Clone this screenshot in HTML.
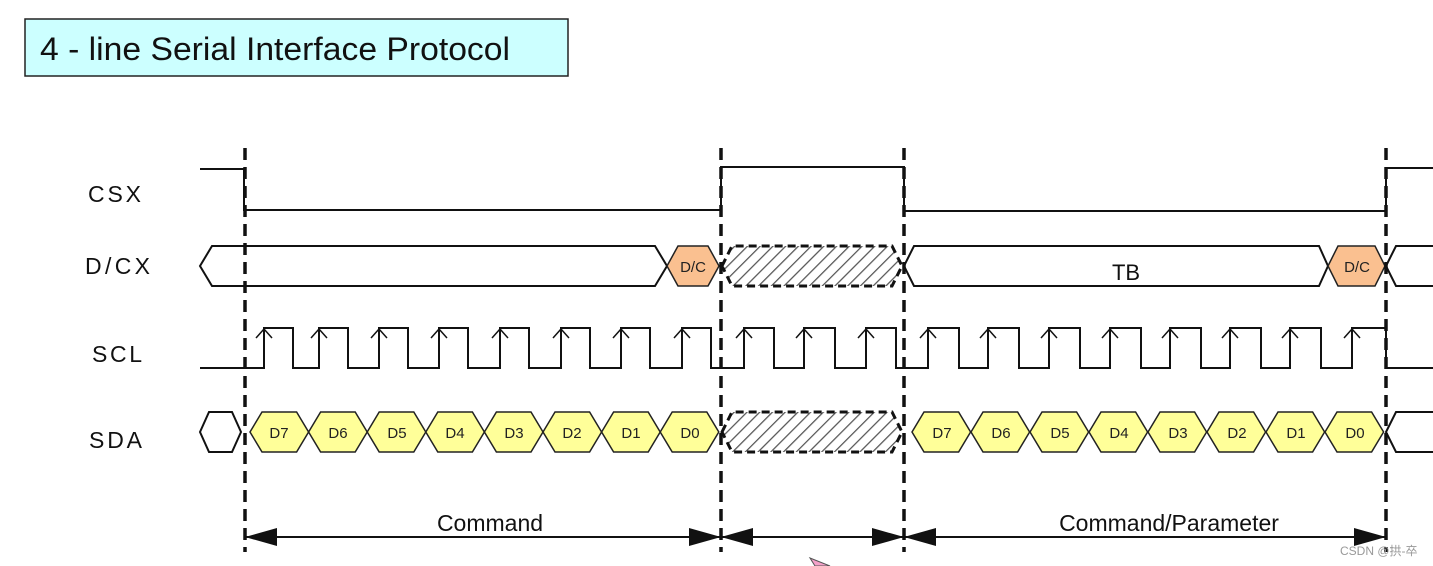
<!DOCTYPE html>
<html><head><meta charset="utf-8"><style>
html,body{margin:0;padding:0;background:#fff;}
svg{display:block;}
text{font-family:"Liberation Sans","Noto Sans CJK SC",sans-serif;}
</style></head><body>
<svg width="1433" height="566" viewBox="0 0 1433 566" xmlns="http://www.w3.org/2000/svg">
<defs>
<pattern id="h" width="9" height="9" patternUnits="userSpaceOnUse" patternTransform="rotate(45)">
<rect width="9" height="9" fill="#fff"/><line x1="0" y1="0" x2="0" y2="9" stroke="#555" stroke-width="2.5"/>
</pattern>
<polygon id="hx" points="0,20 12,0 46.6,0 58.6,20 46.6,40 12,40" fill="#ffff99" stroke="#222" stroke-width="1.5"/>
</defs>
<rect x="25" y="19" width="543" height="57" fill="#ccffff" stroke="#222" stroke-width="1.5"/>
<text x="40" y="60" font-size="32" fill="#111" textLength="470" lengthAdjust="spacingAndGlyphs">4 - line Serial Interface Protocol</text>

<g font-size="23" fill="#111">
<text x="88" y="202" textLength="53">CSX</text>
<text x="85" y="274" textLength="65">D/CX</text>
<text x="92" y="362" textLength="50">SCL</text>
<text x="89" y="448" textLength="53">SDA</text>
</g>

<g fill="none" stroke="#111" stroke-width="2">
<path d="M200 169 H244 V210 H721 V167 H904 V211 H1386 V168 H1433"/>
<polygon points="200,266 212,246 655,246 667,266 655,286 212,286" fill="#fff"/>
<polygon points="904,266 914,246 1319,246 1328,266 1319,286 914,286" fill="#fff"/>
<path d="M1433 246 H1396 L1386 266 L1396 286 H1433"/>
<polygon points="200,432 209,412 232,412 241,432 232,452 209,452" fill="#fff"/>
<path d="M1433 412 H1396 L1386 432 L1396 452 H1433"/>
<path d="M200 368 H264 V328 H293 V368 H319 V328 H348 V368 H379 V328 H408 V368 H439 V328 H468 V368 H500 V328 H529 V368 H561 V328 H590 V368 H621 V328 H650 V368 H682 V328 H711 V368 H744 V328 H774 V368 H804 V328 H835 V368 H866 V328 H896 V368 H928 V328 H959 V368 H988 V328 H1019 V368 H1049 V328 H1080 V368 H1110 V328 H1141 V368 H1170 V328 H1201 V368 H1230 V328 H1261 V368 H1290 V328 H1321 V368 H1352 V328 H1386 V368 H1433"/>
<path stroke-width="1.5" d="M256 338 L264 329 L272 338 M311 338 L319 329 L327 338 M371 338 L379 329 L387 338 M431 338 L439 329 L447 338 M492 338 L500 329 L508 338 M553 338 L561 329 L569 338 M613 338 L621 329 L629 338 M674 338 L682 329 L690 338 M736 338 L744 329 L752 338 M796 338 L804 329 L812 338 M858 338 L866 329 L874 338 M920 338 L928 329 L936 338 M980 338 L988 329 L996 338 M1041 338 L1049 329 L1057 338 M1102 338 L1110 329 L1118 338 M1162 338 L1170 329 L1178 338 M1222 338 L1230 329 L1238 338 M1282 338 L1290 329 L1298 338 M1344 338 L1352 329 L1360 338"/>
</g>

<polygon points="667,266 678,246 708,246 719,266 708,286 678,286" fill="#fac090" stroke="#222" stroke-width="1.5"/>
<polygon points="1328,266 1338,246 1375,246 1385,266 1375,286 1338,286" fill="#fac090" stroke="#222" stroke-width="1.5"/>
<g font-size="15" fill="#222" text-anchor="middle">
<text x="693" y="272">D/C</text><text x="1357" y="272">D/C</text>
</g>
<text x="1126" y="280" font-size="22" text-anchor="middle" fill="#111">TB</text>

<polygon points="722,266 732,246 892,246 902,266 892,286 732,286" fill="url(#h)" stroke="#111" stroke-width="3" stroke-dasharray="8,5"/>
<polygon points="722,432 732,412 892,412 902,432 892,452 732,452" fill="url(#h)" stroke="#111" stroke-width="3" stroke-dasharray="8,5"/>

<g>
<use href="#hx" x="250" y="412"/><use href="#hx" x="308.6" y="412"/><use href="#hx" x="367.2" y="412"/><use href="#hx" x="425.8" y="412"/>
<use href="#hx" x="484.4" y="412"/><use href="#hx" x="543" y="412"/><use href="#hx" x="601.6" y="412"/><use href="#hx" x="660.2" y="412"/>
<use href="#hx" x="912" y="412"/><use href="#hx" x="971" y="412"/><use href="#hx" x="1030" y="412"/><use href="#hx" x="1089" y="412"/>
<use href="#hx" x="1148" y="412"/><use href="#hx" x="1207" y="412"/><use href="#hx" x="1266" y="412"/><use href="#hx" x="1325" y="412"/>
</g>
<g font-size="15" fill="#222" text-anchor="middle">
<text x="279" y="438">D7</text><text x="338" y="438">D6</text><text x="397" y="438">D5</text><text x="455" y="438">D4</text>
<text x="514" y="438">D3</text><text x="572" y="438">D2</text><text x="631" y="438">D1</text><text x="690" y="438">D0</text>
<text x="942" y="438">D7</text><text x="1001" y="438">D6</text><text x="1060" y="438">D5</text><text x="1119" y="438">D4</text>
<text x="1178" y="438">D3</text><text x="1237" y="438">D2</text><text x="1296" y="438">D1</text><text x="1355" y="438">D0</text>
</g>

<g stroke="#111" stroke-width="3.5" stroke-dasharray="12,7">
<line x1="245" y1="148" x2="245" y2="552"/>
<line x1="721" y1="148" x2="721" y2="552"/>
<line x1="904" y1="148" x2="904" y2="552"/>
<line x1="1386" y1="148" x2="1386" y2="552"/>
</g>

<g stroke="#111" stroke-width="2"><line x1="245" y1="537" x2="1386" y2="537"/></g>
<g fill="#111">
<polygon points="245,537 277,528 277,546"/><polygon points="721,537 689,528 689,546"/>
<polygon points="721,537 753,528 753,546"/><polygon points="904,537 872,528 872,546"/>
<polygon points="904,537 936,528 936,546"/><polygon points="1386,537 1354,528 1354,546"/>
</g>
<g font-size="23" fill="#111" text-anchor="middle">
<text x="490" y="531">Command</text>
<text x="1169" y="531">Command/Parameter</text>
</g>
<polygon points="810,558 830,566 815,566" fill="#f4a0c8" stroke="#555" stroke-width="1"/>
<text x="1340" y="555" font-size="12" fill="#999">CSDN @拱-卒</text>
</svg>
</body></html>
